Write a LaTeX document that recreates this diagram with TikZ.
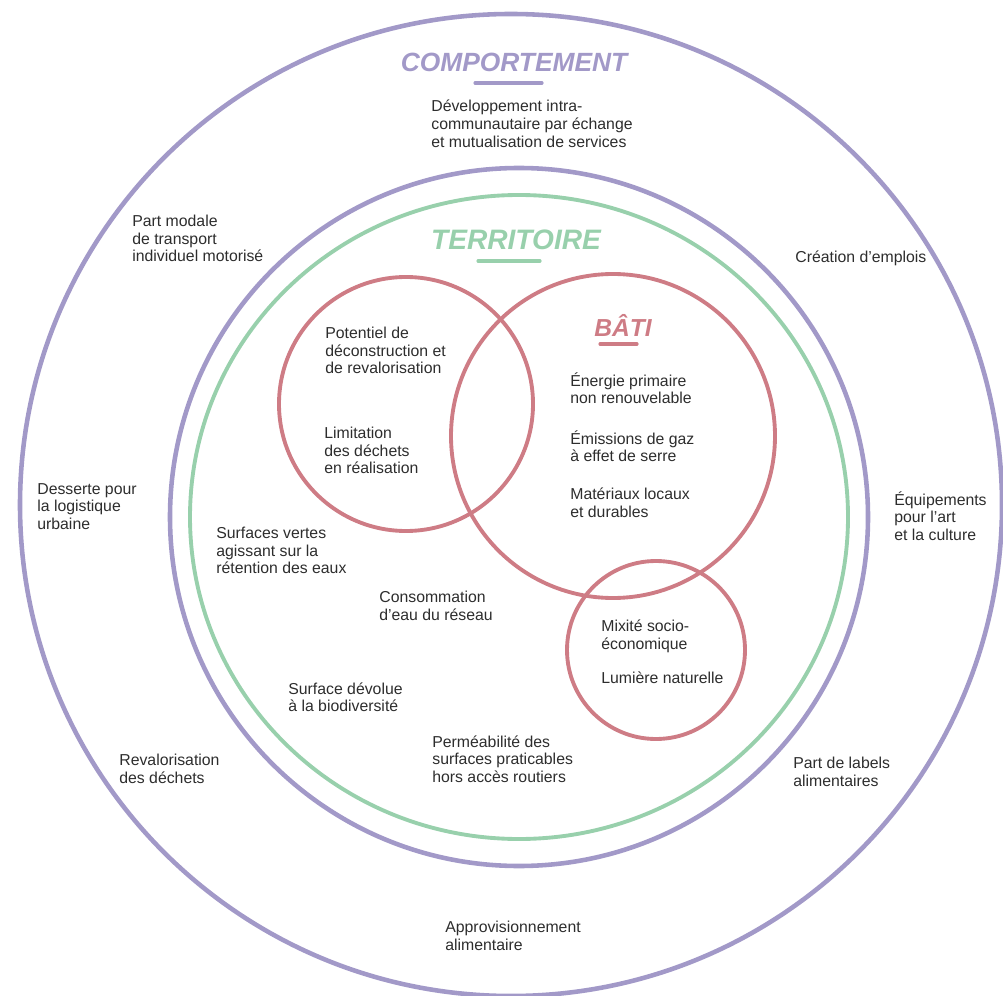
\documentclass[tikz,border=0pt]{standalone}
\usepackage{fontspec}
\setmainfont{Liberation Sans}
\definecolor{compviolet}{RGB}{162,153,200}
\definecolor{terrgreen}{RGB}{152,208,172}
\definecolor{batired}{RGB}{206,124,133}
\definecolor{txtgray}{RGB}{45,45,45}

\begin{document}
\begin{tikzpicture}[
    x=0.02cm, y=-0.02cm,
    lbl/.style={anchor=north west, inner sep=0pt, align=left, text=txtgray,
                font=\fontsize{9}{10}\selectfont},
    ttl/.style={inner sep=0pt, font=\fontsize{15}{15}\selectfont\bfseries\itshape},
    ring/.style={line width=2.6pt},
    uline/.style={line width=1.8pt, line cap=round},
]
    \useasboundingbox (0,0) rectangle (1003,996);

    \draw[ring, compviolet] (511,505) circle (491);
    \draw[ring, compviolet] (519,517) circle (349);
    \draw[ring, terrgreen, line width=2.2pt] (519,517) ellipse (329 and 322);
    \draw[ring, batired, line width=2.2pt] (406,404) circle (127);
    \draw[ring, batired, line width=2.2pt] (613,436) circle (162);
    \draw[ring, batired, line width=2.2pt] (656,650) circle (89);

    \node[ttl, text=compviolet] (comportement) at (514,62) {COMPORTEMENT};
    \draw[uline, compviolet] (475,83) -- (542,83);
    \node[ttl, text=terrgreen, font=\fontsize{16}{16}\selectfont\bfseries\itshape] (territoire) at (516,240) {TERRITOIRE};
    \draw[uline, terrgreen] (478,261) -- (540,261);
    \node[ttl, text=batired, font=\fontsize{14}{14}\selectfont\bfseries\itshape] (bati) at (623,325) {BÂTI};
    \draw[uline, batired] (600,344) -- (637,344);

    \node[lbl] (devcomm) at (431,100) {Développement intra-\\communautaire par échange\\et mutualisation de services};
    \node[lbl] (partmodale) at (132,215) {Part modale\\de transport\\individuel motorisé};
    \node[lbl] (emplois) at (795,251) {Création d’emplois};
    \node[lbl] (potentiel) at (325,327) {Potentiel de\\déconstruction et\\de revalorisation};
    \node[lbl] (limitation) at (324,427) {Limitation\\des déchets\\en réalisation};
    \node[lbl] (energie) at (570,372) {Énergie primaire\\non renouvelable};
    \node[lbl] (emissions) at (570,430) {Émissions de gaz\\à effet de serre};
    \node[lbl] (materiaux) at (570,488) {Matériaux locaux\\et durables};
    \node[lbl] (desserte) at (37,483) {Desserte pour\\la logistique\\urbaine};
    \node[lbl] (equipements) at (894,491) {Équipements\\pour l’art\\et la culture};
    \node[lbl] (surfaces) at (216,527) {Surfaces vertes\\agissant sur la\\rétention des eaux};
    \node[lbl] (consommation) at (379,591) {Consommation\\d’eau du réseau};
    \node[lbl] (mixite) at (601,620) {Mixité socio-\\économique};
    \node[lbl] (lumiere) at (601,672) {Lumière naturelle};
    \node[lbl] (biodiversite) at (288,682) {Surface dévolue\\à la biodiversité};
    \node[lbl] (permeabilite) at (432,735) {Perméabilité des\\surfaces praticables\\hors accès routiers};
    \node[lbl] (revalorisation) at (119,754) {Revalorisation\\des déchets};
    \node[lbl] (labels) at (793,757) {Part de labels\\alimentaires};
    \node[lbl] (appro) at (445,921) {Approvisionnement\\alimentaire};
\end{tikzpicture}
\end{document}
